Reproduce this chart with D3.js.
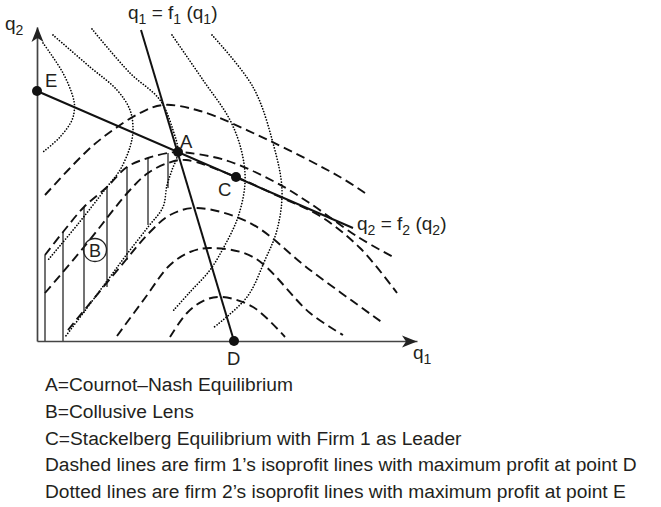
<!DOCTYPE html>
<html><head><meta charset="utf-8">
<script src="https://cdn.jsdelivr.net/npm/d3@7"></script>
<style>html,body{margin:0;padding:0;background:#fff;} svg{display:block;}</style>
</head><body>
<svg id="chart" width="661" height="507"></svg>
<script>
// ---- data, in (q1, q2) output units ----
// firm 1 isoprofit lines (dashed), peaks on reaction function f1
const firm1Iso1 = [[1.6,29.2],[10.2,38.2],[15.2,42.2],[20.6,45.6],[25.2,47.2],[32.6,46],[46.2,40.2],[60.6,32.8],[65.6,29.6]];
const firm1Iso2 = [[1.6,17.2],[5.2,21.8],[9.4,26.8],[14,30.8],[18,34.8],[22.2,36.6],[26.2,37.6],[28.2,37.8],[37.6,36.2],[47.6,31.8],[54.2,27.8],[64.2,20.8],[71.6,16.6]];
const firm1Iso3 = [[1.6,9.6],[9.4,18.8],[18.6,30.2],[22.2,33.6],[26.2,35.6],[29.8,36.2],[39.8,32.8],[48.6,28.8],[56.6,25],[64.6,18.6],[72,9.6]];
const firm1Iso4 = [[6.2,2.2],[16.6,14.8],[22.6,21.8],[26.6,25.2],[31.8,26.6],[42.6,23.6],[54.6,14.2],[69.2,3.6]];
const firm1Iso5 = [[16,1],[21.6,8.6],[26.6,15.2],[30.6,17.8],[34.6,18.6],[43.2,16.8],[54.6,5.6],[61.2,1.2]];
const firm1Iso6 = [[26.6,0.8],[30,5.6],[33.6,8.2],[37,8.8],[43.2,6.8],[49.6,0.8]];
// firm 2 isoprofit lines (dotted), vertices on reaction function f2
const firm2Iso1 = [[1.2,59.6],[5.2,53.6],[7.2,48.8],[7.5,46.8],[7,44.2],[4.6,40.8],[1.2,37.8]];
const firm2Iso2 = [[3.2,61.2],[10.6,54.8],[16,50.2],[18.6,46.2],[19.2,42.2],[18.6,38.8],[16.6,34.2],[14,30.8],[8.2,23.4],[2.2,16.2]];
const firm2Iso3 = [[11,62.4],[18.6,53.6],[24.6,48.2],[27.2,42.2],[28.2,37.8],[27,34.2],[26,31.2],[25.2,26.8],[22.2,22.8],[18,17.4],[14,12],[9.4,5.8],[5.6,0.8]];
const firm2Iso4 = [[27,61.2],[33.2,52.2],[38.6,44.2],[41,37.6],[41.6,31.6],[40.2,24.8],[37.6,19.2],[34.6,14.2],[30.6,9.8],[27,5.8]];
const firm2Iso5 = [[35,61.2],[43.2,50.8],[47.2,39.6],[49,30.2],[48,22.2],[45.6,16.2],[42,8.8],[35.2,2.6]];
// reaction functions (solid)
const reaction1 = [[20.8,62.2],[39.4,0]];
const reaction2 = [[0,50],[63.2,22.6]];
// collusive lens hatching
const hatchQ1 = [1.6,5.2,9.4,14,18,22.2,26.2];
const hatchTop = [17.2,21.8,26.8,30.8,34.8,36.6,37.6];
const hatchBottom = [0,0,5.6,10.8,16.2,23.2,30.6];
// labelled points
const pointLabels = ["E","A","C","D"];
const pointQ1 = [0,28.2,39.8,39.4];
const pointQ2 = [50,37.8,32.8,0];
const lensLabel = "B";
const lensQ1 = 11.6, lensQ2 = 18.2;
// notes
const notes = [
  "A=Cournot\u2013Nash Equilibrium",
  "B=Collusive Lens",
  "C=Stackelberg Equilibrium with Firm 1 as Leader",
  "Dashed lines are firm 1\u2019s isoprofit lines with maximum profit at point D",
  "Dotted lines are firm 2\u2019s isoprofit lines with maximum profit at point E"
];

// ---- drawing ----
const FONT = "'Liberation Sans', Arial, Helvetica, sans-serif";
const INK = "#231f20";
const svg = d3.select("#chart").style("font-family", FONT);
const x = d3.scaleLinear().domain([0,76]).range([37,417]);
const y = d3.scaleLinear().domain([0,62.8]).range([341,27]);
const line = d3.line().x(d=>x(d[0])).y(d=>y(d[1])).curve(d3.curveCatmullRom.alpha(0.5));

// axes
svg.append("g").attr("transform",`translate(0,${y(0)})`)
  .call(d3.axisBottom(x).tickValues([]).tickSizeOuter(0));
svg.append("g").attr("transform",`translate(${x(0)},0)`)
  .call(d3.axisLeft(y).tickValues([]).tickSizeOuter(0));
svg.selectAll(".domain").attr("stroke","#444").attr("stroke-width",1.7);
// arrowheads
const xt = x.range()[1], yt = y.range()[1], x0 = x(0), y0 = y(0);
svg.append("path").attr("d",`M${xt},${y0+0.5} L${xt-15},${y0-5.5} L${xt-11},${y0+0.5} L${xt-15},${y0+6.5} Z`).attr("fill","#222");
svg.append("path").attr("d",`M${x0+0.5},${yt} L${x0-5.5},${yt+15} L${x0+0.5},${yt+11} L${x0+6.5},${yt+15} Z`).attr("fill","#222");

// hatching
svg.append("g").selectAll("line").data(hatchQ1).join("line")
  .attr("x1",d=>x(d)).attr("x2",d=>x(d))
  .attr("y1",(d,i)=>y(hatchTop[i])).attr("y2",(d,i)=>y(hatchBottom[i]))
  .attr("stroke","#444").attr("stroke-width",1.5);

// dotted (firm 2)
svg.append("g").selectAll("path").data([firm2Iso1,firm2Iso2,firm2Iso3,firm2Iso4,firm2Iso5]).join("path")
  .attr("d",line).attr("fill","none").attr("stroke","#000").attr("stroke-width",1.7)
  .attr("stroke-linecap","round").attr("stroke-dasharray","0.01,2.9");
// dashed (firm 1)
svg.append("g").selectAll("path").data([firm1Iso1,firm1Iso2,firm1Iso3,firm1Iso4,firm1Iso5,firm1Iso6]).join("path")
  .attr("d",line).attr("fill","none").attr("stroke","#111").attr("stroke-width",1.9)
  .attr("stroke-dasharray","9,5");
// reaction functions
svg.append("g").selectAll("path").data([reaction1,reaction2]).join("path")
  .attr("d",d3.line().x(d=>x(d[0])).y(d=>y(d[1]))).attr("fill","none")
  .attr("stroke","#111").attr("stroke-width",2);

// points
svg.append("g").selectAll("circle").data(pointLabels).join("circle")
  .attr("cx",(d,i)=>x(pointQ1[i])).attr("cy",(d,i)=>y(pointQ2[i])).attr("r",5).attr("fill","#111");
const labelOffsets = {E:[8,-4],A:[2,-4],C:[-18,19],D:[-7,24]};
svg.append("g").selectAll("text").data(pointLabels).join("text")
  .attr("x",(d,i)=>x(pointQ1[i])+labelOffsets[d][0]).attr("y",(d,i)=>y(pointQ2[i])+labelOffsets[d][1])
  .attr("font-size",18.5).attr("fill",INK).text(d=>d);

// lens label
svg.append("circle").attr("cx",x(lensQ1)).attr("cy",y(lensQ2)).attr("r",11.5)
  .attr("fill","none").attr("stroke","#222").attr("stroke-width",1.3);
svg.append("text").attr("x",x(lensQ1)).attr("y",y(lensQ2)+6.5).attr("text-anchor","middle")
  .attr("font-size",18).attr("fill",INK).text(lensLabel);

// texts with subscripts
function subText(px, py, parts, size){
  const t = svg.append("text").attr("x",px).attr("y",py).attr("font-size",size).attr("fill",INK);
  let shifted = false;
  parts.forEach(([s,sub])=>{
    const ts = t.append("tspan").text(s);
    if(sub && !shifted){ ts.attr("dy",5).attr("font-size",size*0.74); shifted = true; }
    else if(sub){ ts.attr("font-size",size*0.74); }
    else if(!sub && shifted){ ts.attr("dy",-5); shifted = false; }
  });
  return t;
}
subText(5, 30, [["q",false],["2",true]], 19);
subText(x.range()[1]-4, y(0)+18, [["q",false],["1",true]], 19);
subText(x(reaction1[0][0])-13, 19, [["q",false],["1",true],[" = f",false],["1",true],[" (q",false],["1",true],[")",false]], 19);
subText(x(reaction2[1][0])+4, y(reaction2[1][1])+1.5, [["q",false],["2",true],[" = f",false],["2",true],[" (q",false],["2",true],[")",false]], 19);

// notes
svg.append("g").selectAll("text").data(notes).join("text")
  .attr("x",45).attr("y",(d,i)=>391+i*26.8)
  .attr("font-size",19.2).attr("fill",INK).text(d=>d);
</script>
</body></html>
